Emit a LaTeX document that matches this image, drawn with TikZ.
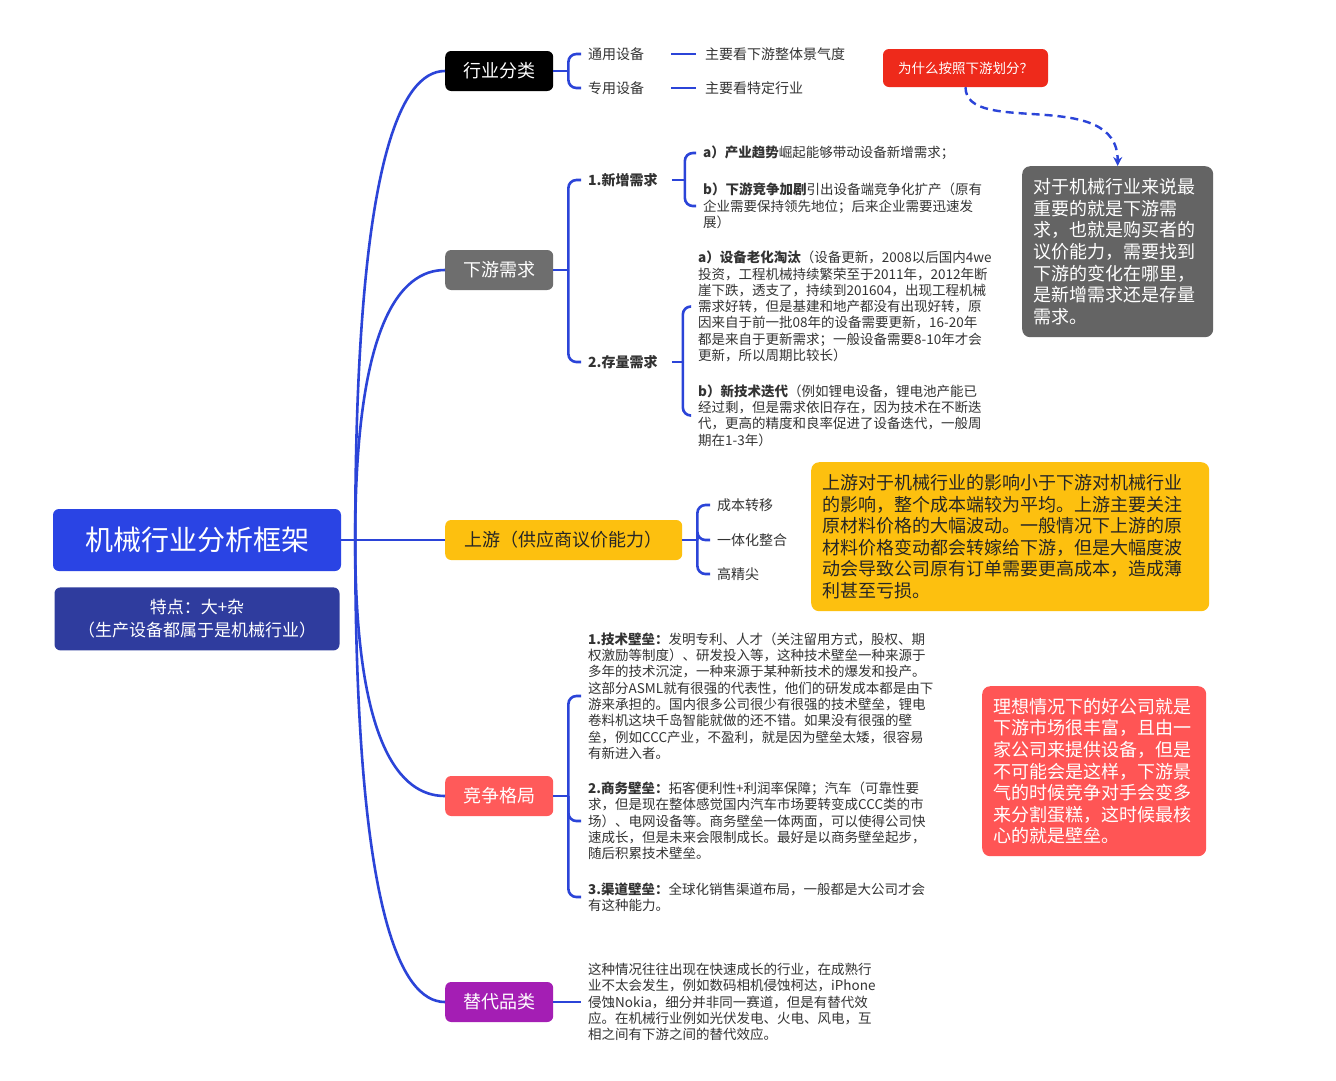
\documentclass[tikz,border=0pt]{standalone}
\usepackage{fontspec}
\setmainfont{Noto Sans CJK SC}
\usepackage{xcolor}
\usepackage{tikz}
\usetikzlibrary{arrows.meta, positioning, calc}
\definecolor{linkblue}{RGB}{43,68,216}
\definecolor{rootblue}{RGB}{42,68,228}
\definecolor{featblue}{RGB}{47,60,158}
\definecolor{downgray}{RGB}{110,110,110}
\definecolor{upyellow}{RGB}{253,192,15}
\definecolor{compred}{RGB}{255,90,90}
\definecolor{subpurple}{RGB}{164,30,180}
\definecolor{whyred}{RGB}{238,42,27}
\definecolor{notegray}{RGB}{100,100,100}
\definecolor{notered}{RGB}{255,85,85}
\definecolor{txtgray}{RGB}{51,51,51}
\newcommand{\fontpx}[2]{\fontsize{#1}{#2}\selectfont}

\begin{document}
\begin{tikzpicture}[x=1pt, y=-1pt,
    link/.style={draw=linkblue, line width=2.6pt},
    dashlink/.style={draw=linkblue, line width=2.4pt, dash pattern=on 8pt off 5pt, -{Stealth[length=9pt, width=9pt]}},
    curv/.style={to path={.. controls ($(\tikztostart)!0.8!(\tikztostart|-\tikztotarget)$) and ($(\tikztostart|-\tikztotarget)!0.5!(\tikztotarget)$) .. (\tikztotarget)}},
    rootbox/.style={rectangle, rounded corners=6pt, fill=rootblue, text=white, minimum width=288pt, minimum height=62pt, font=\fontpx{28}{32}},
    featbox/.style={rectangle, rounded corners=6pt, fill=featblue, text=white, minimum width=285pt, minimum height=63pt, align=center, font=\fontpx{17}{23}},
    branch/.style={rectangle, rounded corners=6pt, anchor=west, text=white, minimum width=108pt, minimum height=40pt, font=\fontpx{18}{20}},
    leaf/.style={anchor=west, inner xsep=7pt, inner ysep=1pt, text=txtgray, font=\fontpx{14}{16}},
    headleaf/.style={leaf, font=\fontpx{14}{16}\bfseries},
    para/.style={anchor=west, inner xsep=7pt, inner ysep=1pt, align=left, text=txtgray, font=\fontpx{13.5}{16.3}},
    note/.style={rectangle, rounded corners=8pt, anchor=north west, inner xsep=11pt, inner ysep=10pt, align=left, font=\fontpx{18}{21.6}}]
  \path[use as bounding box, fill=white] (0,0) rectangle (1336,1080);

  % root and its note
  \node[rootbox] (root) at (197,540) {机械行业分析框架};
  \node[featbox, below=16pt of root] (feat) {特点：大+杂\\（生产设备都属于是机械行业）};

  % main branches
  \node[branch, fill=black] (hy) at (445,71) {行业分类};
  \node[branch, fill=downgray] (xy) at (445,270) {下游需求};
  \node[branch, fill=upyellow, text=black!85, minimum width=237pt] (sy) at (445,540) {上游（供应商议价能力）};
  \node[branch, fill=compred] (jz) at (445,796) {竞争格局};
  \node[branch, fill=subpurple] (td) at (445,1002) {替代品类};

  \coordinate (hub) at ([xshift=14pt]root.east);
  \draw[link] (root.east) -- (hub);
  \foreach \b in {hy, xy, sy, jz, td}
    \draw[link] (hub) to[curv] (\b.west);

  % industry classes
  \node[leaf] (ty) at (581,54) {通用设备};
  \node[leaf] (zy) at (581,88) {专用设备};
  \node[leaf] (tyk) at (698,54) {主要看下游整体景气度};
  \node[leaf] (zyk) at (698,88) {主要看特定行业};
  \coordinate (hyh) at ([xshift=15pt]hy.east);
  \draw[link] (hy.east) -- (hyh);
  \foreach \c in {ty, zy}
    \draw[link, rounded corners=8pt] (hyh) |- (\c.west);
  \draw[link, shorten <=20pt, shorten >=2pt] (ty.east) -- (tyk.west);
  \draw[link, shorten <=20pt, shorten >=2pt] (zy.east) -- (zyk.west);

  \node[rectangle, rounded corners=6pt, fill=whyred, text=white, minimum width=165pt, minimum height=38pt, font=\fontpx{13.5}{16}] (why) at (965.5,68) {为什么按照下游划分？};
  \node[note, fill=notegray, text=white, text width=169pt, minimum height=171pt] (imp) at (1022,166)
    {对于机械行业来说最\\重要的就是下游需\\求，也就是购买者的\\议价能力，需要找到\\下游的变化在哪里，\\是新增需求还是存量\\需求。};
  \draw[dashlink] (why.south) .. controls +(0,50) and +(0,-80) .. (imp.north);

  % downstream demand
  \node[headleaf] (n1) at (581,180) {1.新增需求};
  \node[headleaf] (n2) at (581,362) {2.存量需求};
  \coordinate (xyh) at ([xshift=15pt]xy.east);
  \draw[link] (xy.east) -- (xyh);
  \foreach \c in {n1, n2}
    \draw[link, rounded corners=8pt] (xyh) |- (\c.west);

  \node[para] (a1) at (696,153) {\textbf{a）产业趋势}崛起能够带动设备新增需求；};
  \node[para] (b1) at (696,206) {\textbf{b）下游竞争加剧}引出设备端竞争化扩产（原有\\企业需要保持领先地位；后来企业需要迅速发\\展）};
  \coordinate (n1h) at ([xshift=20pt]n1.east);
  \draw[link, shorten <=7pt] (n1.east) -- (n1h);
  \foreach \c in {a1, b1}
    \draw[link, rounded corners=8pt] (n1h) |- (\c.west);

  \node[para] (a2) at (691,306.5) {\textbf{a）设备老化淘汰}（设备更新，2008以后国内4we\\投资，工程机械持续繁荣至于2011年，2012年断\\崖下跌，透支了，持续到201604，出现工程机械\\需求好转，但是基建和地产都没有出现好转，原\\因来自于前一批08年的设备需要更新，16-20年\\都是来自于更新需求；一般设备需要8-10年才会\\更新，所以周期比较长）};
  \node[para] (b2) at (691,415.5) {\textbf{b）新技术迭代}（例如锂电设备，锂电池产能已\\经过剩，但是需求依旧存在，因为技术在不断迭\\代，更高的精度和良率促进了设备迭代，一般周\\期在1-3年）};
  \coordinate (n2h) at ([xshift=18pt]n2.east);
  \draw[link, shorten <=7pt] (n2.east) -- (n2h);
  \foreach \c in {a2, b2}
    \draw[link, rounded corners=8pt] (n2h) |- (\c.west);

  % upstream
  \node[leaf] (cb) at (710,505) {成本转移};
  \node[leaf] (yt) at (710,540) {一体化整合};
  \node[leaf] (gj) at (710,574) {高精尖};
  \coordinate (syh) at ([xshift=15pt]sy.east);
  \draw[link] (sy.east) -- (syh);
  \foreach \c in {cb, yt, gj}
    \draw[link, rounded corners=8pt] (syh) |- (\c.west);
  \node[note, fill=upyellow, text=black!85, text width=376pt, minimum height=149pt] (upn) at (811,462)
    {上游对于机械行业的影响小于下游对机械行业\\的影响，整个成本端较为平均。上游主要关注\\原材料价格的大幅波动。一般情况下上游的原\\材料价格变动都会转嫁给下游，但是大幅度波\\动会导致公司原有订单需要更高成本，造成薄\\利甚至亏损。};

  % competition
  \node[para] (p1) at (581,696) {\textbf{1.技术壁垒：}发明专利、人才（关注留用方式，股权、期\\权激励等制度）、研发投入等，这种技术壁垒一种来源于\\多年的技术沉淀，一种来源于某种新技术的爆发和投产。\\这部分ASML就有很强的代表性，他们的研发成本都是由下\\游来承担的。国内很多公司很少有很强的技术壁垒，锂电\\卷料机这块千岛智能就做的还不错。如果没有很强的壁\\垒，例如CCC产业，不盈利，就是因为壁垒太矮，很容易\\有新进入者。};
  \node[para] (p2) at (581,821) {\textbf{2.商务壁垒：}拓客便利性+利润率保障；汽车（可靠性要\\求，但是现在整体感觉国内汽车市场要转变成CCC类的市\\场）、电网设备等。商务壁垒一体两面，可以使得公司快\\速成长，但是未来会限制成长。最好是以商务壁垒起步，\\随后积累技术壁垒。};
  \node[para] (p3) at (581,897) {\textbf{3.渠道壁垒：}全球化销售渠道布局，一般都是大公司才会\\有这种能力。};
  \coordinate (jzh) at ([xshift=15pt]jz.east);
  \draw[link] (jz.east) -- (jzh);
  \foreach \c in {p1, p2, p3}
    \draw[link, rounded corners=8pt] (jzh) |- (\c.west);
  \node[note, fill=notered, text=white, text width=202pt, minimum height=170pt] (ideal) at (982,686)
    {理想情况下的好公司就是\\下游市场很丰富，且由一\\家公司来提供设备，但是\\不可能会是这样，下游景\\气的时候竞争对手会变多\\来分割蛋糕，这时候最核\\心的就是壁垒。};

  % substitutes
  \node[para] (tdp) at (581,1002) {这种情况往往出现在快速成长的行业，在成熟行\\业不太会发生，例如数码相机侵蚀柯达，iPhone\\侵蚀Nokia，细分并非同一赛道，但是有替代效\\应。在机械行业例如光伏发电、火电、风电，互\\相之间有下游之间的替代效应。};
  \draw[link] (td.east) -- (tdp.west);
\end{tikzpicture}
\end{document}
